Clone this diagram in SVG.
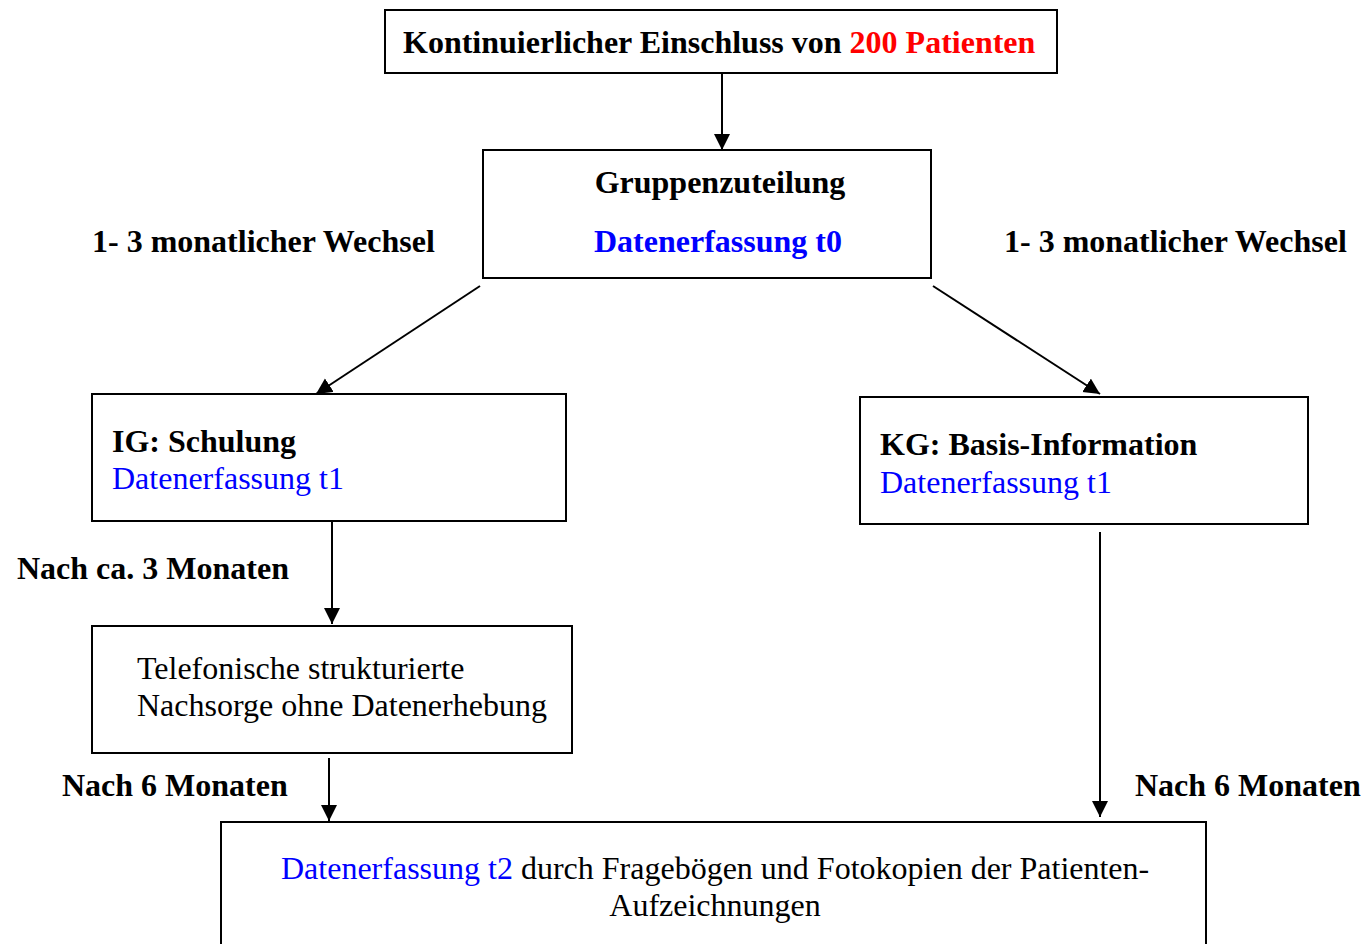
<svg xmlns="http://www.w3.org/2000/svg" width="1363" height="944" viewBox="0 0 1363 944">
<style>
text{font-family:"Liberation Serif","Times New Roman",serif;font-size:32px;fill:#000}
.b{font-weight:bold}
.blue{fill:#0000ff}
.red{fill:#ff0000}
.box{fill:#fff;stroke:#000;stroke-width:2}
.ln{stroke:#000;stroke-width:2;fill:none;marker-end:url(#ah)}
</style>
<defs>
<marker id="ah" markerUnits="userSpaceOnUse" markerWidth="16" markerHeight="18" refX="16" refY="8" orient="auto">
<path d="M0,0 L16,8 L0,16 Z" fill="#000"/>
</marker>
</defs>
<rect width="1363" height="944" fill="#fff"/>
<g id="connectors">
<line class="ln" x1="722" y1="73" x2="722" y2="150"/>
<line class="ln" x1="480" y1="286" x2="316" y2="394"/>
<line class="ln" x1="933" y1="286" x2="1100" y2="394"/>
<line class="ln" x1="332" y1="517" x2="332" y2="624"/>
<line class="ln" x1="1100" y1="532" x2="1100" y2="817"/>
<line class="ln" x1="329" y1="758" x2="329" y2="821"/>
</g>
<g id="n-start">
<rect class="box" x="385" y="10" width="672" height="63"/>
<text class="b" x="403" y="53">Kontinuierlicher Einschluss von <tspan class="red">200 Patienten</tspan></text>
</g>
<g id="n-gruppe">
<rect class="box" x="483" y="150" width="448" height="128"/>
<text class="b" x="720" y="193" text-anchor="middle">Gruppenzuteilung</text>
<text class="b blue" x="718" y="252" text-anchor="middle">Datenerfassung t0</text>
</g>
<g id="l-left">
<text class="b" x="92" y="252">1- 3 monatlicher Wechsel</text>
</g>
<g id="l-right">
<text class="b" x="1004" y="252">1- 3 monatlicher Wechsel</text>
</g>
<g id="n-ig">
<rect class="box" x="92" y="394" width="474" height="127"/>
<text class="b" x="112" y="452">IG: Schulung</text>
<text class="blue" x="112" y="489">Datenerfassung t1</text>
</g>
<g id="n-kg">
<rect class="box" x="860" y="397" width="448" height="127"/>
<text class="b" x="880" y="455">KG: Basis-Information</text>
<text class="blue" x="880" y="493">Datenerfassung t1</text>
</g>
<g id="l-3m">
<text class="b" x="17" y="579">Nach ca. 3 Monaten</text>
</g>
<g id="n-tel">
<rect class="box" x="92" y="626" width="480" height="127"/>
<text x="137" y="679">Telefonische strukturierte</text>
<text x="137" y="716">Nachsorge ohne Datenerhebung</text>
</g>
<g id="l-6m-left">
<text class="b" x="62" y="796">Nach 6 Monaten</text>
</g>
<g id="l-6m-right">
<text class="b" x="1135" y="796">Nach 6 Monaten</text>
</g>
<g id="n-t2">
<rect class="box" x="221" y="822" width="985" height="140"/>
<text x="281" y="879"><tspan class="blue">Datenerfassung t2</tspan> durch Fragebögen und Fotokopien der Patienten-</text>
<text x="715" y="916" text-anchor="middle">Aufzeichnungen</text>
</g>
</svg>
